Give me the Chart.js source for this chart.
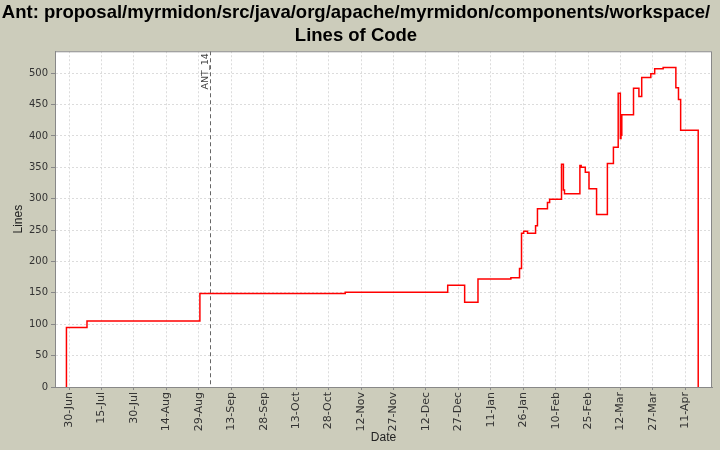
<!DOCTYPE html>
<html>
<head>
<meta charset="utf-8">
<title>Lines of Code</title>
<script src="https://cdn.jsdelivr.net/npm/chart.js@4"></script>
<style>
    html, body { margin: 0; padding: 0; background: #ccccbb; }
    #wrap { width: 720px; height: 450px; }
</style>
</head>
<body>
<div id="wrap"><canvas id="locChart" width="720" height="450"></canvas></div>
<script>
// 基準日期 (x 軸以天數表示)
const baseDate = '2001-06-30';

// x 軸刻度
const tickDates = ['2001-06-30', '2001-07-15', '2001-07-30', '2001-08-14', '2001-08-29',
    '2001-09-13', '2001-09-28', '2001-10-13', '2001-10-28', '2001-11-12', '2001-11-27',
    '2001-12-12', '2001-12-27', '2002-01-11', '2002-01-26', '2002-02-10', '2002-02-25',
    '2002-03-12', '2002-03-27', '2002-04-11'];
const tickLabels = ['30-Jun', '15-Jul', '30-Jul', '14-Aug', '29-Aug', '13-Sep', '28-Sep',
    '13-Oct', '28-Oct', '12-Nov', '27-Nov', '12-Dec', '27-Dec', '11-Jan', '26-Jan',
    '10-Feb', '25-Feb', '12-Mar', '27-Mar', '11-Apr'];

// 每次變更的時間與程式行數
const stepTimes = ['2001-06-28T19:00', '2001-06-28T19:00', '2001-07-08T07:00', '2001-08-29T12:00',
    '2001-11-04T17:00', '2001-12-22T02:00', '2001-12-29T22:00', '2002-01-05T02:00',
    '2002-01-20T07:00', '2002-01-24T07:00', '2002-01-25T05:00', '2002-01-26T05:00',
    '2002-01-28T00:00', '2002-01-31T17:00', '2002-02-01T14:00', '2002-02-06T05:00',
    '2002-02-07T05:00', '2002-02-12T17:00', '2002-02-13T14:00', '2002-02-14T02:00',
    '2002-02-21T05:00', '2002-02-21T19:00', '2002-02-23T17:00', '2002-02-25T10:00',
    '2002-02-28T22:00', '2002-03-05T22:00', '2002-03-08T17:00', '2002-03-10T22:00',
    '2002-03-11T22:00', '2002-03-12T05:00', '2002-03-12T14:00', '2002-03-18T00:00',
    '2002-03-20T12:00', '2002-03-21T19:00', '2002-03-26T00:00', '2002-03-27T19:00',
    '2002-03-31T17:00', '2002-04-06T14:00', '2002-04-07T19:00', '2002-04-08T19:00',
    '2002-04-16T22:00'];
const lineCounts = [0, 95, 105, 149, 151, 162, 135, 172, 174, 189, 245, 248, 245, 257, 284,
    294, 299, 355, 314, 308, 353, 350, 342, 316, 275, 356, 382, 468, 396, 401, 434, 476,
    463, 493, 499, 507, 509, 477, 458, 409, 0];

// 版本標記
const markerLabel = 'ANT_14';
const markerTime = '2001-09-03T02:00';

// x 軸範圍
const axisStart = '2001-06-23T12:00';
const axisEnd = '2002-04-23T07:00';

// 日期轉換成天數
function toDays(s) {
    const t = s.includes('T') ? s : s + 'T00:00';
    return (Date.parse(t + 'Z') - Date.parse(baseDate + 'T00:00Z')) / 864e5;
}

const tickValues = tickDates.map(toDays);
const points = stepTimes.map((t, i) => ({ x: toDays(t), y: lineCounts[i] }));

// 繪圖區背景與外框
const plotFrame = {
    id: 'plotFrame',
    beforeDraw(chart) {
        const { ctx, chartArea: a } = chart;
        ctx.save();
        ctx.fillStyle = '#ffffff';
        ctx.fillRect(a.left, a.top, a.right - a.left, a.bottom - a.top);
        ctx.restore();
    },
    afterDraw(chart) {
        const { ctx, chartArea: a } = chart;
        ctx.save();
        ctx.strokeStyle = '#888888';
        ctx.lineWidth = 1;
        ctx.strokeRect(a.left + 0.5, a.top + 0.5, a.right - a.left - 1, a.bottom - a.top);
        ctx.restore();
    }
};

// 版本標記線
const versionMarker = {
    id: 'versionMarker',
    beforeDatasetsDraw(chart) {
        const { ctx, chartArea: a } = chart;
        const x = Math.round(chart.scales.x.getPixelForValue(toDays(markerTime))) + 0.5;
        ctx.save();
        ctx.strokeStyle = '#666666';
        ctx.lineWidth = 1;
        ctx.setLineDash([4, 3]);
        ctx.beginPath();
        ctx.moveTo(x, a.top);
        ctx.lineTo(x, a.bottom);
        ctx.stroke();
        ctx.setLineDash([]);
        ctx.translate(x - 5, a.top + 2);
        ctx.rotate(-Math.PI / 2);
        ctx.fillStyle = '#444444';
        ctx.font = '9.5px "DejaVu Sans"';
        ctx.textAlign = 'right';
        ctx.textBaseline = 'middle';
        ctx.fillText(markerLabel, 0, 0);
        ctx.restore();
    }
};

const axisTitleFont = { family: 'Liberation Sans', size: 12 };

new Chart(document.getElementById('locChart'), {
    type: 'line',
    data: {
        datasets: [{
            label: 'Lines',
            data: points,
            borderColor: '#ff0000',
            borderWidth: 1.5,
            pointRadius: 0,
            tension: 0,
            stepped: 'before',
            fill: false
        }]
    },
    options: {
        responsive: false,
        animation: false,
        layout: { padding: { left: 0, right: 8, top: 0, bottom: 0 } },
        plugins: {
            legend: { display: false },
            tooltip: { enabled: false },
            title: {
                display: true,
                text: ['Ant: proposal/myrmidon/src/java/org/apache/myrmidon/components/workspace/', 'Lines of Code'],
                color: '#000000',
                font: { family: 'Liberation Sans', size: 18.5, weight: 'bold', lineHeight: 1.25 },
                padding: { top: 1, bottom: 4 }
            }
        },
        scales: {
            x: {
                type: 'linear',
                min: toDays(axisStart),
                max: toDays(axisEnd),
                afterBuildTicks(scale) {
                    scale.ticks = tickValues.map(v => ({ value: v }));
                },
                afterFit(scale) {
                    scale.height = 63;
                },
                ticks: {
                    autoSkip: false,
                    minRotation: 90,
                    maxRotation: 90,
                    padding: 2,
                    color: '#333333',
                    font: { family: 'DejaVu Sans', size: 11 },
                    callback: (value, index) => tickLabels[index]
                },
                grid: { color: '#dcdcdc', tickColor: '#888888', tickLength: 3 },
                border: { display: true, color: '#888888', dash: [2, 2] },
                title: {
                    display: true,
                    text: 'Date',
                    color: '#222222',
                    font: axisTitleFont,
                    padding: { top: 0, bottom: 5 }
                }
            },
            y: {
                min: 0,
                max: 535,
                afterFit(scale) {
                    scale.width = 55;
                },
                ticks: {
                    stepSize: 50,
                    includeBounds: false,
                    padding: 3,
                    color: '#333333',
                    font: { family: 'DejaVu Sans', size: 10 }
                },
                grid: { color: '#dcdcdc', tickColor: '#888888', tickLength: 4 },
                border: { display: true, color: '#888888', dash: [2, 2] },
                title: {
                    display: true,
                    text: 'Lines',
                    color: '#222222',
                    font: axisTitleFont,
                    padding: { top: 11, bottom: 0 }
                }
            }
        }
    },
    plugins: [plotFrame, versionMarker]
});
</script>
</body>
</html>
